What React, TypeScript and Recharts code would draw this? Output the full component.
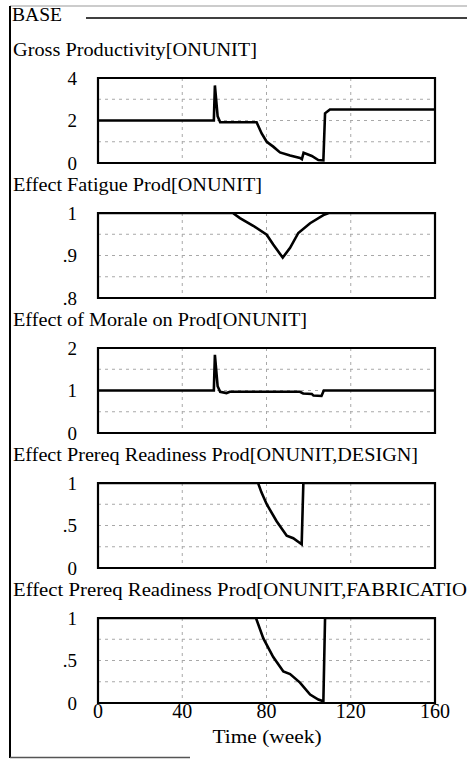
import React from "react";
import { LineChart, Line, XAxis, YAxis, CartesianGrid, ReferenceArea } from "recharts";

// ---- data ----
const timeTicks = [0, 40, 80, 120, 160];

const grossT = [0, 55, 55.5, 56.8, 58, 75.3, 77.7, 80.1, 83.2, 86.4, 91.2, 95.9, 96.8, 97.6, 101.5, 104.6, 107, 107.8, 110.1, 160];
const grossV = [2.0, 2.0, 3.65, 2.2, 1.92, 1.92, 1.39, 1.0, 0.77, 0.5, 0.35, 0.24, 0.18, 0.48, 0.33, 0.14, 0.12, 2.34, 2.52, 2.52];

const fatigueT = [0, 64, 67.4, 73.7, 80.1, 83.2, 87.7, 91.2, 95.1, 100.7, 107, 109.6, 160];
const fatigueV = [1, 1, 0.988, 0.97, 0.949, 0.926, 0.895, 0.918, 0.953, 0.976, 0.995, 1, 1];

const moraleT = [0, 55, 55.5, 56.8, 58, 61, 62.6, 95.9, 97.4, 101.5, 102.3, 106.1, 107.2, 160];
const moraleV = [1.0, 1.0, 1.84, 1.1, 0.97, 0.94, 0.97, 0.97, 0.93, 0.92, 0.88, 0.87, 1.0, 1.0];

const designT = [0, 76, 77.6, 80.1, 84.8, 89.6, 92.7, 96.7, 97.5, 160];
const designV = [1, 1, 0.89, 0.75, 0.55, 0.38, 0.35, 0.28, 1, 1];

const fabT = [0, 75, 78.5, 83.2, 88, 91.2, 95.9, 100.7, 104.6, 107, 107.8, 160];
const fabV = [1, 1, 0.76, 0.54, 0.37, 0.34, 0.24, 0.1, 0.04, 0.02, 1, 1];

const grossTicks = [0, 1, 2, 3, 4];
const grossLabels = [0, 2, 4];
const fatigueTicks = [0.8, 0.85, 0.9, 0.95, 1];
const fatigueLabels = [0.8, 0.9, 1];
const moraleTicks = [0, 0.5, 1, 1.5, 2];
const moraleLabels = [0, 1, 2];
const readyTicks = [0, 0.25, 0.5, 0.75, 1];
const readyLabels = [0, 0.5, 1];

const titles = [
  "Gross Productivity[ONUNIT]",
  "Effect Fatigue Prod[ONUNIT]",
  "Effect of Morale on Prod[ONUNIT]",
  "Effect Prereq Readiness Prod[ONUNIT,DESIGN]",
  "Effect Prereq Readiness Prod[ONUNIT,FABRICATIO",
];
const titleWidths = [244, 249, 294, 405, 454];

const build = (ts: number[], vs: number[]) => ts.map((t, i) => ({ t, v: vs[i] }));

const FONT = "Liberation Serif";

const fmt = (v: number) => (v === 0 ? "0" : String(v).replace(/^0\./, "."));

const panels = [
  { data: build(grossT, grossV), ticks: grossTicks, labels: grossLabels },
  { data: build(fatigueT, fatigueV), ticks: fatigueTicks, labels: fatigueLabels },
  { data: build(moraleT, moraleV), ticks: moraleTicks, labels: moraleLabels },
  { data: build(designT, designV), ticks: readyTicks, labels: readyLabels },
  { data: build(fabT, fabV), ticks: readyTicks, labels: readyLabels },
];

const makeYTick = (labels: number[]) => (props: any) => {
  const { x, y, payload } = props;
  const val = payload.value as number;
  if (!labels.some((l) => Math.abs(l - val) < 1e-9)) return <g />;
  return (
    <text x={x - 13} y={y} dy="0.35em" textAnchor="end" style={{ fontFamily: FONT }} fontSize={19} fill="#000">
      {fmt(val)}
    </text>
  );
};

const XTick = (props: any) => {
  const { x, y, payload } = props;
  return (
    <text x={x} y={y} dy={7} textAnchor="middle" style={{ fontFamily: FONT }} fontSize={20} fill="#000">
      {payload.value}
    </text>
  );
};
const EmptyTick = () => <g />;

const Panel = ({ idx }: { idx: number }) => {
  const p = panels[idx];
  const last = idx === panels.length - 1;
  const h = last ? 160 : 120;
  const lo = p.ticks[0];
  const hi = p.ticks[p.ticks.length - 1];
  return (
    <div style={{ position: "absolute", left: 0, top: 60 + 135 * idx, width: 467, height: h }}>
      <LineChart width={467} height={h} data={p.data} margin={{ top: 18, right: 32, bottom: 17, left: 0 }}>
        <CartesianGrid stroke="#a8a8a8" strokeDasharray="3 4" strokeWidth={1} />
        <XAxis
          dataKey="t"
          type="number"
          domain={[0, 160]}
          ticks={timeTicks}
          interval={0}
          axisLine={false}
          tickLine={false}
          height={last ? 40 : 0}
          tick={last ? <XTick /> : <EmptyTick />}
        />
        <YAxis
          type="number"
          domain={[lo, hi]}
          ticks={p.ticks}
          interval={0}
          width={98}
          axisLine={false}
          tickLine={false}
          allowDataOverflow
          tick={makeYTick(p.labels)}
        />
        <ReferenceArea x1={0} x2={160} y1={lo} y2={hi} fill="none" fillOpacity={0} stroke="#000" strokeWidth={2.2} />
        <Line type="linear" dataKey="v" stroke="#000" strokeWidth={2.6} dot={false} isAnimationActive={false} />
      </LineChart>
    </div>
  );
};

export default function App() {
  return (
    <div style={{ position: "absolute", left: 0, top: 0, width: 467, height: 759, background: "#fff", overflow: "hidden" }}>
      {panels.map((_, i) => (
        <Panel key={i} idx={i} />
      ))}
      <svg width={467} height={759} style={{ position: "absolute", left: 0, top: 0, pointerEvents: "none" }}>
        <line x1={10} y1={6} x2={467} y2={6} stroke="#999" strokeWidth={1} />
        <line x1={10} y1={6} x2={10} y2={758} stroke="#000" strokeWidth={2} />
        <line x1={10} y1={757.5} x2={190} y2={757.5} stroke="#555" strokeWidth={1.5} />
        <line x1={86} y1={18} x2={467} y2={18} stroke="#000" strokeWidth={1.5} />
        <text x={12} y={21} style={{ fontFamily: FONT }} fontSize={19} textLength={50} lengthAdjust="spacingAndGlyphs" fill="#000">
          BASE
        </text>
        {titles.map((t, i) => (
          <text
            key={i}
            x={13}
            y={56 + 135 * i}
            style={{ fontFamily: FONT }}
            fontSize={19}
            textLength={titleWidths[i]}
            lengthAdjust="spacingAndGlyphs"
            fill="#000"
          >
            {t}
          </text>
        ))}
        <text x={267} y={743} textAnchor="middle" style={{ fontFamily: FONT }} fontSize={19} textLength={109} lengthAdjust="spacingAndGlyphs" fill="#000">
          Time (week)
        </text>
      </svg>
    </div>
  );
}
